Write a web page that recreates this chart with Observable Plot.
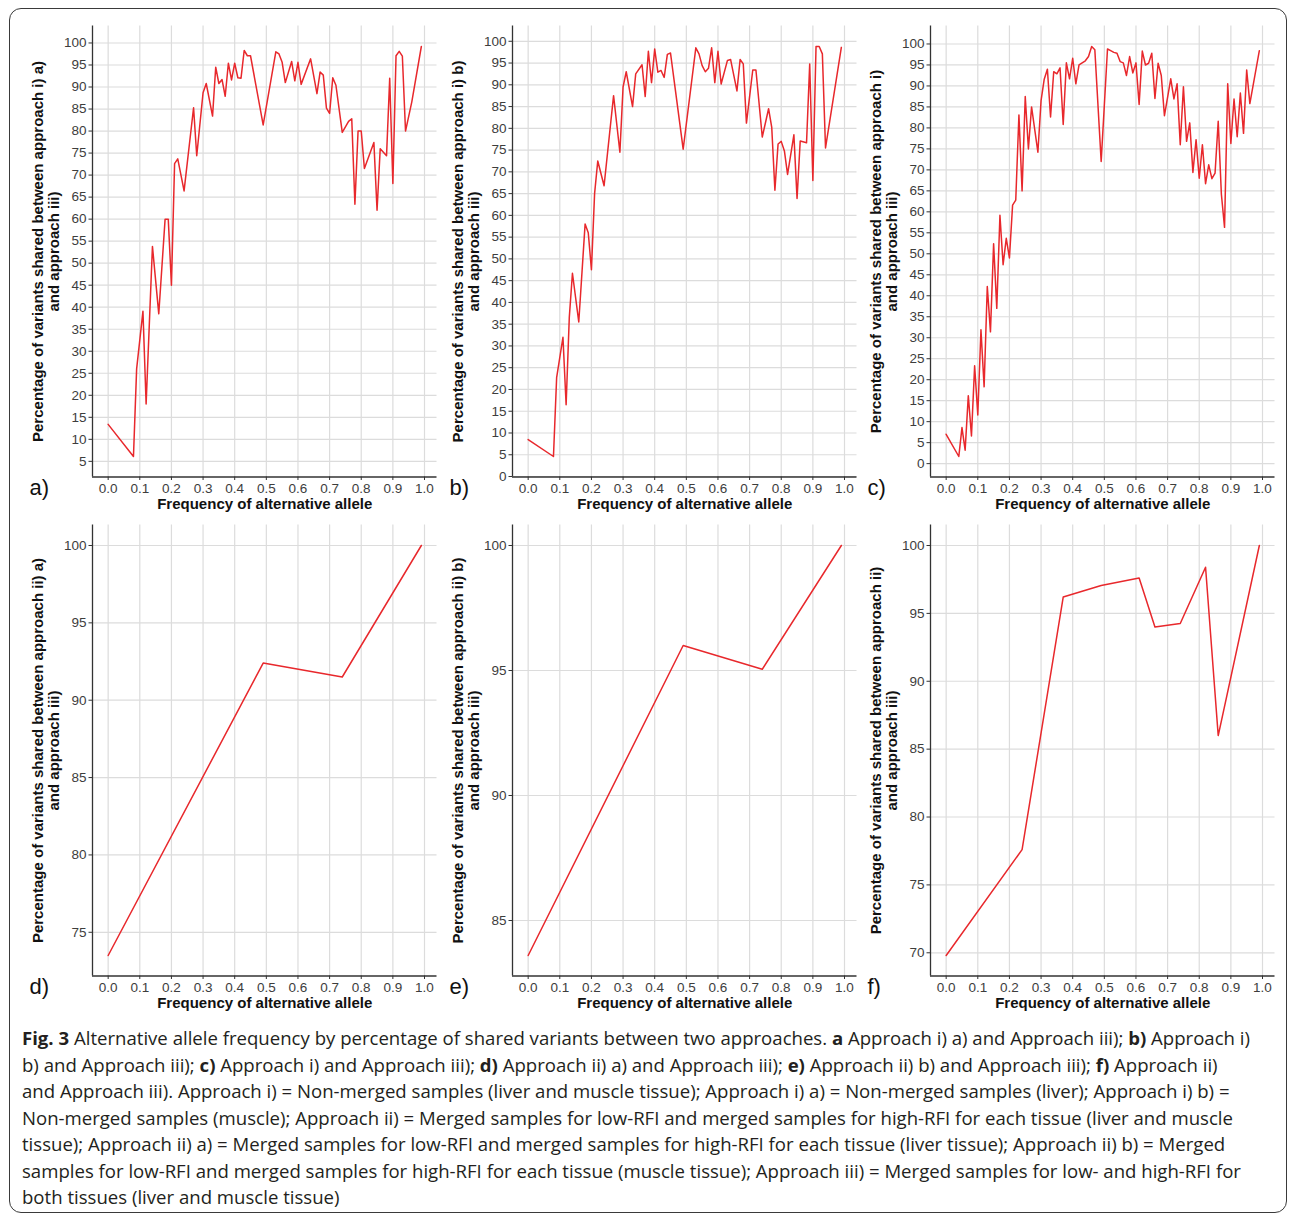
<!DOCTYPE html>
<html><head><meta charset="utf-8">
<script src="https://cdn.jsdelivr.net/npm/d3@7"></script>
<script src="https://cdn.jsdelivr.net/npm/@observablehq/plot@0.6"></script>
<style>
body{margin:0;background:#fff;}
#page{position:relative;width:1290px;height:1215px;overflow:hidden;background:#fff;}
#border{position:absolute;left:9px;top:8px;width:1278px;height:1205px;border:1.5px solid #3a3a3a;border-radius:12px;box-sizing:border-box;}
#caption{position:absolute;left:22px;top:1025px;font-family:"Open Sans",sans-serif;font-size:18px;line-height:26.5px;color:#231f20;}
.cl{white-space:nowrap;transform-origin:0 50%;width:max-content;}
</style></head><body><div id="page"><div id="border"></div><div id="caption"></div></div>
<script>
// ---- data ----
const xTicks = [0,0.1,0.2,0.3,0.4,0.5,0.6,0.7,0.8,0.9,1.0];

const freqA = [0,0.08,0.09,0.11,0.12,0.14,0.16,0.18,0.19,0.20,0.21,0.22,0.24,0.27,0.28,0.30,0.31,0.33,0.34,0.35,0.36,0.37,0.38,0.39,0.40,0.41,0.42,0.43,0.44,0.45,0.49,0.53,0.54,0.55,0.56,0.58,0.59,0.60,0.61,0.64,0.66,0.67,0.68,0.69,0.70,0.71,0.72,0.74,0.76,0.77,0.78,0.79,0.80,0.81,0.84,0.85,0.86,0.88,0.89,0.90,0.91,0.92,0.93,0.94,0.96,0.99];
const pctA  = [13.4,6.1,26,39.1,18,53.8,38.5,60,60,45,72.6,73.7,66.4,85.3,74.4,88.7,90.8,83.4,94.5,90.8,91.7,87.9,95.4,91.6,95.4,92.1,92.0,98.3,97.1,97.1,81.4,98.0,97.5,95.6,91.0,95.8,91.4,95.6,90.6,96.4,88.5,93.4,92.7,85.2,84.0,92.1,90.4,79.7,82.2,82.8,63.4,80.0,80.0,71.5,77.4,62.0,76.0,74.4,92.0,68.1,97.1,98.1,97.0,80.0,86.7,99.2];
const yTicksA = [5,10,15,20,25,30,35,40,45,50,55,60,65,70,75,80,85,90,95,100];

const freqB = [0,0.08,0.09,0.11,0.12,0.13,0.14,0.16,0.18,0.19,0.20,0.21,0.22,0.24,0.27,0.29,0.30,0.31,0.33,0.34,0.36,0.37,0.38,0.39,0.40,0.41,0.42,0.43,0.44,0.45,0.49,0.53,0.54,0.55,0.56,0.57,0.58,0.59,0.60,0.61,0.63,0.64,0.66,0.67,0.68,0.69,0.71,0.72,0.74,0.76,0.77,0.78,0.79,0.80,0.81,0.82,0.84,0.85,0.86,0.88,0.89,0.90,0.91,0.92,0.93,0.94,0.99];
const pctB  = [8.5,4.6,22.7,32,16.5,36.5,46.7,35.5,58,56,47.5,65,72.5,66.8,87.5,74.5,89.5,93,85,92.5,94.6,87.3,97.7,90.5,98.2,92.9,93.3,91.7,97,97.3,75.2,98.5,97.1,94.4,93,93.8,98.5,90.5,97.7,90.2,95.6,95.8,88.6,95.8,94.8,81.2,93.4,93.4,78,84.5,80.2,65.8,76.4,77,74.8,69.4,78.5,63.9,77.1,76.7,94.8,68,98.8,98.8,97.1,75.5,98.6];
const yTicksB = [0,5,10,15,20,25,30,35,40,45,50,55,60,65,70,75,80,85,90,95,100];

const freqC = [0,0.04,0.05,0.06,0.07,0.08,0.09,0.10,0.11,0.12,0.13,0.14,0.15,0.16,0.17,0.18,0.19,0.20,0.21,0.22,0.23,0.24,0.25,0.26,0.27,0.29,0.30,0.31,0.32,0.33,0.34,0.35,0.36,0.37,0.38,0.39,0.40,0.41,0.42,0.44,0.45,0.46,0.47,0.49,0.51,0.52,0.53,0.54,0.55,0.56,0.57,0.58,0.59,0.60,0.61,0.62,0.63,0.64,0.65,0.66,0.67,0.68,0.69,0.71,0.72,0.73,0.74,0.75,0.76,0.77,0.78,0.79,0.80,0.81,0.82,0.83,0.84,0.85,0.86,0.87,0.88,0.89,0.90,0.91,0.92,0.93,0.94,0.95,0.96,0.99];
const pctC  = [7.0,1.7,8.6,3.2,16.2,6.6,23.3,11.6,31.9,18.3,42.2,31.4,52.4,37.0,59.2,47.4,53.7,49.0,61.6,62.8,83.1,65.0,87.5,75.0,85.0,74.2,86.5,91.6,94.0,82.6,93.4,92.9,94.3,80.8,95.5,91.7,96.6,90.5,95.0,96.0,97.0,99.4,98.6,72.0,98.8,98.4,98.0,97.8,95.8,95.5,92.5,97.0,93.1,95.5,85.6,98.3,95.0,95.4,97.8,87.0,95.4,92.5,82.9,91.7,86.9,90.5,76.0,89.8,76.8,81.2,69.4,77.2,68.0,76.0,66.7,71.2,67.9,69.2,81.6,64.2,56.3,90.5,76.3,86.9,77.9,88.3,78.7,93.8,85.8,98.4];
const yTicksC = yTicksB;

const freqD = [0,0.49,0.74,0.99];
const pctD  = [73.5,92.4,91.5,100];
const yTicksD = [75,80,85,90,95,100];

const freqE = [0,0.49,0.74,0.99];
const pctE  = [83.6,96.0,95.05,100];
const yTicksE = [85,90,95,100];

const freqF = [0,0.24,0.37,0.49,0.61,0.66,0.74,0.82,0.86,0.99];
const pctF  = [69.8,77.6,96.2,97.05,97.6,94.0,94.25,98.4,86.0,100];
const yTicksF = [70,75,80,85,90,95,100];

const xTitle = "Frequency of alternative allele";
const yTitles = [
  "Percentage of variants shared between approach i) a)\nand approach iii)",
  "Percentage of variants shared between approach i) b)\nand approach iii)",
  "Percentage of variants shared between approach i)\nand approach iii)",
  "Percentage of variants shared between approach ii) a)\nand approach iii)",
  "Percentage of variants shared between approach ii) b)\nand approach iii)",
  "Percentage of variants shared between approach ii)\nand approach iii)"
];
const letters = ["a)","b)","c)","d)","e)","f)"];

const captionLines = [
  "<b>Fig. 3</b> Alternative allele frequency by percentage of shared variants between two approaches. <b>a</b> Approach i) a) and Approach iii); <b>b)</b> Approach i)",
  "b) and Approach iii); <b>c)</b> Approach i) and Approach iii); <b>d)</b> Approach ii) a) and Approach iii); <b>e)</b> Approach ii) b) and Approach iii); <b>f)</b> Approach ii)",
  "and Approach iii). Approach i) = Non-merged samples (liver and muscle tissue); Approach i) a) = Non-merged samples (liver); Approach i) b) =",
  "Non-merged samples (muscle); Approach ii) = Merged samples for low-RFI and merged samples for high-RFI for each tissue (liver and muscle",
  "tissue); Approach ii) a) = Merged samples for low-RFI and merged samples for high-RFI for each tissue (liver tissue); Approach ii) b) = Merged",
  "samples for low-RFI and merged samples for high-RFI for each tissue (muscle tissue); Approach iii) = Merged samples for low- and high-RFI for",
  "both tissues (liver and muscle tissue)"
];

// ---- drawing ----
const page = document.getElementById("page");
const colLeft = [0, 419.6, 838.2];
const rowTop = [0, 499];

function panel(freq, pct, yTicks, idx) {
  const data = freq.map((f, i) => ({f, p: pct[i]}));
  const [x0, x1] = d3.extent(freq), [y0, y1] = d3.extent(pct);
  const xd = [x0 - 0.05 * (x1 - x0), x1 + 0.05 * (x1 - x0)];
  const yd = [y0 - 0.05 * (y1 - y0), y1 + 0.05 * (y1 - y0)];
  const svg = Plot.plot({
    width: 438.5, height: 520,
    marginLeft: 92, marginRight: 2, marginTop: 25.5, marginBottom: 43.5,
    style: {fontFamily: "'Liberation Sans', Arial, sans-serif", fontSize: "13.5px", color: "#3d3d3d", background: "transparent", overflow: "visible"},
    x: {domain: xd},
    y: {domain: yd},
    marks: [
      Plot.gridX({ticks: xTicks, stroke: "#dcdcdc", strokeOpacity: 1, strokeWidth: 1.2}),
      Plot.gridY({ticks: yTicks, stroke: "#dcdcdc", strokeOpacity: 1, strokeWidth: 1.2}),
      Plot.ruleX([xd[0]], {stroke: "#333", strokeWidth: 1.3}),
      Plot.ruleY([yd[0]], {stroke: "#333", strokeWidth: 1.3}),
      Plot.axisX({ticks: xTicks, tickFormat: d3.format(".1f"), tickSize: 3.5, tickPadding: 2.5, label: null, stroke: "#333", fontSize: 13.5}),
      Plot.axisY({ticks: yTicks, tickSize: 3.5, tickPadding: 2.5, label: null, stroke: "#333", fontSize: 13.5}),
      Plot.line(data, {x: "f", y: "p", stroke: "#e8282c", strokeWidth: 1.5}),
      Plot.text([xTitle], {text: d => d, frameAnchor: "bottom", dy: 27, lineAnchor: "middle", fontWeight: "bold", fontSize: 15, fill: "#111"}),
      Plot.text([yTitles[idx]], {text: d => d, frameAnchor: "left", dx: -47, rotate: -90, textAnchor: "middle", lineAnchor: "middle", lineHeight: 1.07, fontWeight: "bold", fontSize: 15, fill: "#111"}),
      Plot.text([letters[idx]], {text: d => d, frameAnchor: "bottom-left", dx: -63, dy: 11, textAnchor: "start", lineAnchor: "middle", fontSize: 22, fill: "#111"})
    ]
  });
  svg.style.position = "absolute";
  svg.style.left = colLeft[idx % 3] + "px";
  svg.style.top = rowTop[Math.floor(idx / 3)] + "px";
  page.appendChild(svg);
}

panel(freqA, pctA, yTicksA, 0);
panel(freqB, pctB, yTicksB, 1);
panel(freqC, pctC, yTicksC, 2);
panel(freqD, pctD, yTicksD, 3);
panel(freqE, pctE, yTicksE, 4);
panel(freqF, pctF, yTicksF, 5);

const cap = document.getElementById("caption");
const lineEls = captionLines.map(t => {
  const d = document.createElement("div");
  d.className = "cl";
  d.innerHTML = t;
  cap.appendChild(d);
  return d;
});
function fit() {
  lineEls.forEach(d => d.style.transform = "none");
  const w = lineEls[0].getBoundingClientRect().width;
  const s = 1228 / w;
  lineEls.forEach(d => d.style.transform = `scaleX(${s})`);
}
fit();
if (document.fonts && document.fonts.ready) document.fonts.ready.then(fit);
</script>
</body></html>
